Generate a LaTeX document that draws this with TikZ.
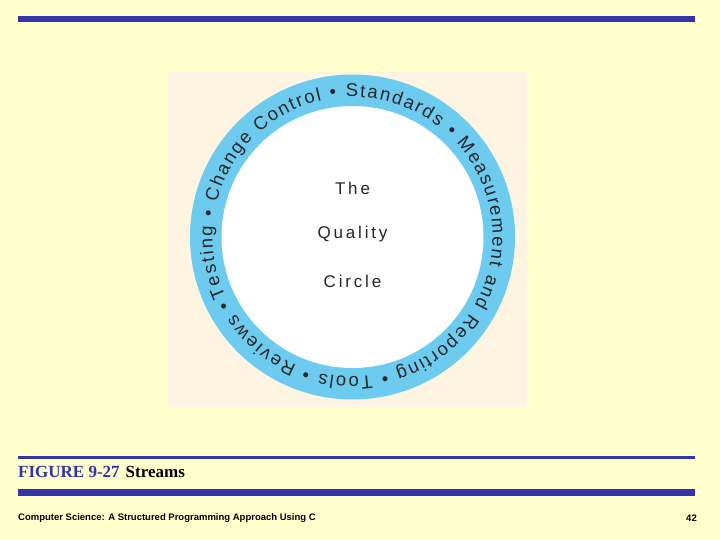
\documentclass[tikz,border=0pt]{standalone}
\usepackage{fontspec}
\setmainfont{Liberation Serif}
\setsansfont{Liberation Sans}
\usetikzlibrary{decorations.text}
\definecolor{bg}{HTML}{FFFFCC}
\definecolor{bar}{HTML}{3333AA}
\definecolor{panel}{HTML}{FDF5E2}
\definecolor{ring}{HTML}{6CCBEF}
\begin{document}
\begin{tikzpicture}[x=1pt,y=-1pt,
  ctext/.style={font=\sffamily\fontsize{17}{20}\selectfont, text=black!85}]
\fill[bg] (0,0) rectangle (720,540);
\useasboundingbox (0,0) rectangle (720,540);
\fill[bar] (18,16.5) rectangle (695,22.5);
\fill[panel] (168,72) rectangle (527,407);
\coordinate (c) at (352.5,237);
\fill[ring] (c) circle[radius=162.5];
\fill[white] (c) circle[radius=131];
\begin{scope}[shift={(c)}, x=1pt, y=1pt]
\path[decorate, decoration={text along path, text align={fit to path},
  text={|\sffamily\fontsize{18.5}{20}\selectfont\color{black!85}|Testing • Change Control • Standards • Measurement and Reporting • Tools • Reviews •}}]
  (205:140) arc[start angle=205, end angle=-153, radius=140];
\end{scope}
\node[ctext] (t1) at (352.5,188) {T\,h\,e};
\node[ctext] (t2) at (352.5,234) {Q\,u\,a\,l\,i\,t\,y};
\node[ctext] (t3) at (352.5,281) {C\,i\,r\,c\,l\,e};
\fill[bar] (18,456) rectangle (695,459);
\node[anchor=west, font=\bfseries\fontsize{17}{20}\selectfont, inner sep=0] (cap) at (18,472)
  {\textcolor{bar}{FIGURE 9-27}\hspace{6pt}Streams};
\fill[bar] (18,489) rectangle (695,496);
\node[anchor=west, font=\sffamily\bfseries\fontsize{9.5}{11}\selectfont, inner sep=0] (foot) at (18,518)
  {Computer Science: A Structured Programming Approach Using C};
\node[anchor=east, font=\sffamily\bfseries\fontsize{9.5}{11}\selectfont, inner sep=0] (pg) at (697,518) {42};
\end{tikzpicture}
\end{document}
